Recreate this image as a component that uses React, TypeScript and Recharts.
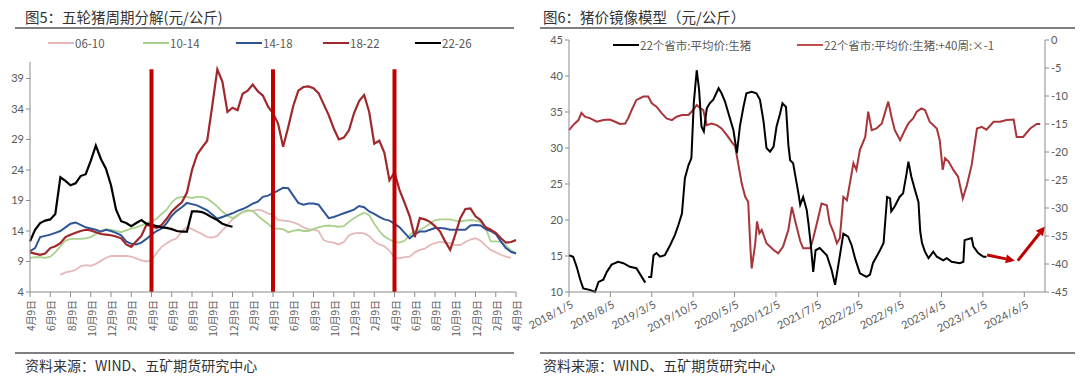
import { LineChart, Line, XAxis, YAxis, ReferenceLine } from "recharts";

// ---------- 图5 五轮猪周期分解 ----------
// every series sampled every half month, starting 4月9日
const cycleTicks = [0, 2, 4, 6, 8, 10, 12, 14, 16, 18, 20, 22, 24, 26, 28, 30, 32, 34, 36, 38, 40, 42, 44, 46, 48];
const cycleTickLabels = [
  "4月9日", "6月9日", "8月9日", "10月9日", "12月9日", "2月9日",
  "4月9日", "6月9日", "8月9日", "10月9日", "12月9日", "2月9日",
  "4月9日", "6月9日", "8月9日", "10月9日", "12月9日", "2月9日",
  "4月9日", "6月9日", "8月9日", "10月9日", "12月9日", "2月9日",
  "4月9日",
];
const cycleYTicks = [4, 9, 14, 19, 24, 29, 34, 39];
const cycleBreaks = [12, 24, 36];

const c0610 = [
  null, null, null, null, null, null, 6.8, 7.2,
  7.4, 7.6, 8.2, 8.4, 8.3, 8.6, 9.1, 9.6,
  9.9, 9.9, 9.9, 9.9, 9.8, 9.5, 9.2, 9.0,
  9.2, 10.4, 11.4, 12.0, 12.5, 12.8, 14.0, 14.6,
  14.3, 13.9, 13.5, 13.0, 12.9, 13.2, 14.1, 15.0,
  15.9, 16.5, 17.1, 17.3, 17.3, 17.5, 17.3, 16.9,
  16.6, 15.8, 15.7, 15.6, 15.4, 15.1, 14.6, 14.3,
  14.2, 14.0, 12.5, 12.2, 12.1, 11.8, 12.2, 13.3,
  13.6, 13.7, 13.6, 13.2, 12.3, 11.8, 11.5, 10.8,
  9.6, 9.5, 9.7, 9.8, 10.5, 10.9, 11.1, 11.7,
  12.0, 12.2, 12.1, 12.0, 11.7, 11.7, 12.2, 12.6,
  12.8, 12.4, 11.6, 10.9, 10.5, 10.1, 9.8, 9.6,
  null,
];
const c1014 = [
  9.6, 9.7, 9.7, 9.6, 9.8, 10.5, 11.5, 12.4,
  12.7, 12.7, 12.7, 12.8, 13.0, 13.5, 14.0, 14.3,
  14.2, 14.0, 13.8, 14.1, 14.4, 14.6, 14.9, 15.3,
  15.6, 16.0, 16.8, 17.5, 18.7, 19.4, 19.6, 19.6,
  19.4, 19.6, 19.6, 19.3, 18.7, 18.0, 17.2, 16.5,
  16.1, 16.6, 17.1, 17.4, 17.3, 16.5, 15.8, 15.2,
  14.4, 14.4, 14.3, 13.8, 14.0, 14.2, 14.0, 14.0,
  14.3, 14.6, 14.8, 14.9, 14.8, 14.7, 14.8, 15.5,
  16.1, 16.6, 17.0, 16.6, 15.2, 14.0, 13.1, 12.6,
  12.2, 12.1, 12.4, 13.3, 14.0, 14.2, 14.6, 15.2,
  15.8, 15.9, 15.9, 15.9, 15.7, 15.6, 15.7, 15.8,
  15.7, 15.5, 14.5, 12.3, 12.3, 12.2, 11.6, 10.8,
  10.4,
];
const c1418 = [
  10.7, 11.2, 13.0, 13.2, 13.4, 13.7, 14.0, 14.6,
  15.2, 15.4, 15.0, 14.6, 14.4, 14.2, 13.9, 14.2,
  14.0, 13.7, 13.3, 12.3, 11.9, 11.8, 12.1, 12.7,
  13.4, 14.0, 14.4, 15.3, 16.5, 17.3, 17.9, 18.6,
  18.4, 18.2, 17.8, 17.4, 16.7, 16.0, 16.3, 16.6,
  16.9, 17.3, 17.6, 18.0, 18.5, 18.8, 19.6, 19.8,
  20.2, 20.6, 21.1, 21.0, 19.8, 18.6, 18.3, 18.5,
  18.5, 18.3, 17.2, 16.1, 16.3, 16.6, 16.9, 17.2,
  17.5, 18.1, 17.9, 17.2, 16.8, 16.3, 15.9, 15.7,
  15.2, 14.6, 13.7, 12.8, 13.5, 13.9, 13.9, 14.2,
  14.5, 14.5, 14.4, 14.2, 14.2, 14.2, 14.2, 14.9,
  15.0, 14.9, 14.3, 14.0, 13.5, 12.3, 11.2, 10.6,
  10.3,
];
const c1822 = [
  10.5, 10.3, 10.1, 10.3, 11.2, 11.5, 12.0, 13.0,
  13.4, 13.7, 14.0, 14.2, 14.1, 13.8, 13.5, 13.4,
  13.3, 13.1, 12.8, 11.8, 11.4, 12.3, 13.2, 15.0,
  14.8, 14.5, 15.0, 16.0, 17.2, 18.0, 18.7, 20.3,
  24.0, 26.5, 27.7, 28.8, 34.5, 40.5, 38.5, 33.5,
  34.2, 33.8, 36.5, 37.0, 38.0, 36.9, 36.2, 34.4,
  33.3, 31.6, 27.8, 31.0, 34.5, 37.0, 37.6, 37.7,
  37.4, 36.6, 34.8, 33.0, 30.8, 29.0, 29.3, 30.5,
  33.3, 35.3, 36.3, 33.5, 28.3, 28.8, 26.8, 22.3,
  23.6, 20.7, 18.6, 16.4, 13.0, 16.1, 15.9, 15.5,
  14.8, 13.9, 12.3, 10.9, 13.4, 16.1, 17.6, 17.7,
  16.4, 15.8, 14.6, 14.2, 13.7, 12.8, 12.1, 12.2,
  12.5,
];
const c2226 = [
  12.3, 14.2, 15.3, 15.7, 15.9, 16.8, 22.8, 22.2,
  21.5, 21.8, 23.0, 23.3, 25.5, 28.0, 25.8, 24.2,
  21.5, 17.5, 15.6, 15.3, 14.8, 15.3, 15.8, 15.2,
  15.0, 14.8, 14.6, 14.5, 14.3, 14.0, 13.9, 13.9,
  17.2, 17.2, 17.1, 16.7, 16.2, 15.8, 15.2, 14.9,
  14.7,
];

const cycleSeries = [
  { key: "06-10", values: c0610, color: "#e6b9b8", width: 1.8 },
  { key: "10-14", values: c1014, color: "#a9d18e", width: 1.8 },
  { key: "14-18", values: c1418, color: "#2f5597", width: 2 },
  { key: "18-22", values: c1822, color: "#a0282c", width: 2.2 },
  { key: "22-26", values: c2226, color: "#000000", width: 2.2 },
];

const cycleData = c1822.map((_, i) => {
  const row: Record<string, number | null> = { m: i / 2 };
  cycleSeries.forEach((s) => {
    const v = s.values[i];
    row[s.key] = v === undefined ? null : v;
  });
  return row;
});

// ---------- 图6 猪价镜像模型 ----------
// months counted from 2018/1/5
const mirrorTicks = [0, 7, 14, 21, 28, 35, 42, 49, 56, 63, 70, 77];
const mirrorTickLabels = [
  "2018/1/5", "2018/8/5", "2019/3/5", "2019/10/5", "2020/5/5", "2020/12/5",
  "2021/7/5", "2022/2/5", "2022/9/5", "2023/4/5", "2023/11/5", "2024/6/5",
];
const priceTicks = [10, 15, 20, 25, 30, 35, 40, 45];
const mirrorAxisTicks = [-45, -40, -35, -30, -25, -20, -15, -10, -5, 0];

const hogMonths = [
  0, 0.7, 1.3, 1.9, 2.4, 3.5, 4.4, 5.0, 5.8, 6.4, 7.2, 8.3, 9.2, 10.3, 11.4, 12.3, 12.9, 13.1,
  13.4, 13.9, 14.3, 14.8, 15.4, 16.2, 17.1, 17.9, 18.5, 19.1, 19.6, 20.2, 20.7, 21.1, 21.6, 22.0,
  22.4, 22.8, 23.3, 23.8, 24.4, 25.3, 25.8, 26.4, 26.9, 27.8, 28.4, 28.9, 29.5, 30.0, 30.9, 31.7,
  32.3, 32.9, 33.4, 34.0, 34.6, 35.1, 35.7, 36.1, 36.7, 37.1, 37.4, 37.9, 38.8, 39.1, 39.6, 40.2,
  40.5, 40.9, 41.3, 41.7, 42.4, 43.6, 44.4, 45.0, 45.6, 46.4, 47.2, 47.8, 48.4, 49.2, 50.3, 50.9,
  51.4, 52.6, 53.2, 53.8, 54.3, 54.5, 55.1, 55.9, 56.5, 57.1, 57.4, 57.9, 58.5, 59.1, 59.4, 59.7,
  60.2, 60.8, 61.6, 62.2, 63.3, 63.9, 64.7, 66.1, 66.7, 66.9, 68.1, 68.4, 69.2, 70.1, 70.6,
];
const hogPrice = [
  15.1, 14.9, 13.5, 11.7, 10.5, 10.3, 10.0, 11.4, 11.7, 12.8, 13.8, 14.2, 14.0, 13.5, 13.3, 12.1, 11.3, null,
  12.1, 12.1, 15.1, 15.4, 14.9, 15.1, 16.5, 17.9, 19.3, 20.9, 25.8, 27.6, 28.6, 36.2, 40.8, 38.1,
  33.0, 32.3, 35.5, 36.2, 36.7, 38.3, 37.6, 36.4, 35.0, 32.5, 29.3, 33.0, 35.7, 37.6, 37.8, 37.6,
  36.7, 33.7, 30.0, 29.5, 30.2, 33.0, 34.8, 36.2, 35.7, 30.4, 28.3, 27.9, 23.7, 22.1, 23.2, 21.4,
  19.5, 16.5, 12.8, 15.8, 16.1, 15.1, 13.1, 11.0, 14.0, 18.1, 17.7, 16.5, 14.6, 12.6, 12.1, 12.4,
  14.0, 15.8, 16.8, 23.2, 23.0, 21.2, 21.9, 23.2, 23.7, 26.5, 28.1, 26.0, 24.2, 22.5, 18.4, 16.8,
  15.6, 14.7, 15.6, 14.9, 14.4, 14.7, 14.2, 14.0, 14.2, 17.2, 17.5, 16.3, 15.4, 14.9, 14.9,
];

const mirrorMonths = [
  0, 0.7, 1.6, 2.1, 2.7, 3.6, 4.7, 5.8, 6.9, 7.8, 8.6, 9.5, 10.0, 10.6, 11.4, 12.6, 13.4, 14.0,
  14.8, 15.7, 16.5, 17.4, 18.2, 19.1, 20.2, 21.0, 21.6, 22.2, 22.7, 23.3, 24.1, 25.0, 25.8, 26.7,
  27.5, 28.1, 28.6, 29.2, 29.8, 30.3, 30.7, 30.9, 31.5, 31.8, 32.2, 32.6, 33.4, 34.6, 35.4, 36.2,
  37.1, 37.7, 38.2, 39.1, 39.6, 40.8, 41.3, 42.2, 42.7, 43.6, 44.1, 44.7, 45.3, 45.8, 46.4, 47.0,
  47.5, 48.1, 48.6, 49.2, 50.1, 50.6, 51.2, 52.0, 52.9, 53.4, 54.0, 54.6, 55.1, 56.0, 56.8, 57.4,
  58.2, 58.8, 59.6, 60.2, 61.0, 62.2, 62.7, 63.2, 63.6, 64.2, 65.0, 65.8, 66.6, 67.3, 68.1, 68.7,
  69.0, 69.8, 70.6, 71.8, 72.9, 74.0, 75.2, 75.7, 76.8, 78.0, 79.1, 79.7,
];
const mirrorPrice = [
  -16.1, -15.2, -14.3, -13.0, -13.7, -14.0, -14.6, -14.3, -14.2, -14.6, -15.0, -14.9, -14.0, -12.5, -10.7, -10.1, -10.1, -11.3,
  -11.9, -13.1, -14.0, -14.3, -13.7, -13.4, -13.4, -12.5, -11.6, -12.2, -12.5, -15.2, -14.9, -15.2, -15.8, -17.0,
  -18.2, -19.0, -22.0, -25.6, -28.0, -28.9, -37.5, -40.8, -36.3, -32.4, -34.5, -33.9, -36.3, -37.5, -38.1, -36.9,
  -33.9, -29.8, -32.1, -35.9, -37.2, -37.2, -35.4, -31.5, -29.2, -29.5, -32.7, -34.2, -36.3, -35.4, -28.0, -28.6,
  -25.6, -22.0, -23.2, -19.6, -17.3, -12.8, -16.1, -15.8, -14.9, -13.1, -11.0, -14.0, -16.1, -17.9, -16.1, -14.9,
  -14.0, -12.8, -12.2, -12.5, -14.6, -15.8, -17.9, -23.2, -21.1, -21.7, -23.2, -24.4, -28.3, -25.9, -22.3, -17.9,
  -15.8, -15.5, -16.0, -14.6, -14.6, -14.3, -14.2, -17.3, -17.3, -15.8, -15.0, -15.0,
];

// forecast arrows, in (month, right-axis value)
const arrowDown = [{ x: 70.7, y: -38.4 }, { x: 75.4, y: -39.4 }];
const arrowUp = [{ x: 75.9, y: -39.4 }, { x: 80.5, y: -33.3 }];

const hogData = hogMonths.map((m, i) => ({ m, v: hogPrice[i] }));
const mirrorData = mirrorMonths.map((m, i) => ({ m, v: mirrorPrice[i] }));

const FONT = "Lato, 'Noto Sans CJK SC', sans-serif";
const CJK = "'Noto Sans CJK SC', sans-serif";
const AXIS = "#8c8c8c";
const TEXT = "#595959";

const CycleTick = ({ x, y, payload }: any) => {
  const idx = cycleTicks.indexOf(payload.value);
  return (
    <text
      transform={`translate(${x + 0.5},${y + 1}) rotate(-90)`}
      textAnchor="end"
      dominantBaseline="central"
      fontSize={10}
      fill={TEXT}
      fontFamily={CJK}
    >
      {cycleTickLabels[idx]}
    </text>
  );
};

const DateTick = ({ x, y, payload }: any) => {
  const idx = mirrorTicks.indexOf(payload.value);
  return (
    <text
      transform={`translate(${x + 3},${y + 4}) rotate(-28)`}
      textAnchor="end"
      dominantBaseline="central"
      fontSize={11}
      fill={TEXT}
      fontFamily={FONT}
    >
      {mirrorTickLabels[idx]}
    </text>
  );
};

const Arrow = (props: any) => {
  const { x1, y1, x2, y2 } = props;
  const ang = Math.atan2(y2 - y1, x2 - x1);
  const len = 9;
  const half = 4.5;
  const bx = x2 - len * Math.cos(ang);
  const by = y2 - len * Math.sin(ang);
  const px = half * Math.sin(ang);
  const py = half * Math.cos(ang);
  return (
    <g>
      <line x1={x1} y1={y1} x2={bx} y2={by} stroke="#c00000" strokeWidth={3} />
      <polygon
        points={`${x2},${y2} ${bx + px},${by - py} ${bx - px},${by + py}`}
        fill="#c00000"
      />
    </g>
  );
};

const LegendItem = ({ left, top, color, label, lineW = 26 }: any) => (
  <div style={{ position: "absolute", left, top, display: "flex", alignItems: "center" }}>
    <div style={{ width: lineW, height: 2, background: color }} />
    <span style={{ fontSize: 11.5, color: TEXT, fontFamily: CJK, marginLeft: 1, whiteSpace: "nowrap" }}>
      {label}
    </span>
  </div>
);

const titleStyle = {
  position: "absolute" as const,
  fontSize: 14.5,
  color: "#333",
  fontFamily: CJK,
  whiteSpace: "nowrap" as const,
};
const rule = (left: number, top: number, width: number) => (
  <div style={{ position: "absolute", left, top, width, height: 1.5, background: "#7f7f7f" }} />
);

export default function App() {
  return (
    <div
      style={{
        position: "absolute",
        left: 0,
        top: 0,
        width: 1080,
        height: 382,
        background: "#fff",
        overflow: "hidden",
      }}
    >
      {/* left panel */}
      <div style={{ ...titleStyle, left: 25, top: 6 }}>图5：五轮猪周期分解(元/公斤)</div>
      {rule(15, 27, 499)}
      <div style={{ position: "absolute", left: 0, top: 0 }}>
        <LineChart width={525} height={352} data={cycleData} margin={{ top: 62, right: 9, left: 0, bottom: 0 }}>
          <XAxis
            dataKey="m"
            type="number"
            domain={[0, 48]}
            ticks={cycleTicks}
            interval={0}
            height={60}
            stroke={AXIS}
            tickSize={5}
            tickMargin={2}
            tick={<CycleTick />}
          />
          <YAxis
            type="number"
            domain={[4, 41.7]}
            ticks={cycleYTicks}
            width={30}
            stroke={AXIS}
            tickSize={4}
            tick={{ fontSize: 11, fill: TEXT, fontFamily: FONT }}
          />
          {cycleSeries.map((s) => (
            <Line
              key={s.key}
              dataKey={s.key}
              type="linear"
              stroke={s.color}
              strokeWidth={s.width}
              dot={false}
              isAnimationActive={false}
            />
          ))}
          {cycleBreaks.map((b) => (
            <ReferenceLine
              key={b}
              segment={[{ x: b, y: 40.5 }, { x: b, y: 4 }]}
              stroke="#c00000"
              strokeWidth={4}
            />
          ))}
        </LineChart>
      </div>
      {cycleSeries.map((s, i) => (
        <LegendItem
          key={s.key}
          left={[48, 143, 236, 323, 415][i]}
          top={35}
          color={s.color}
          label={s.key}
        />
      ))}
      {rule(15, 352, 499)}
      <div style={{ ...titleStyle, left: 25, top: 355, fontSize: 14 }}>资料来源：WIND、五矿期货研究中心</div>

      {/* right panel */}
      <div style={{ ...titleStyle, left: 543, top: 6 }}>图6：猪价镜像模型（元/公斤）</div>
      {rule(540, 27, 535)}
      <div style={{ position: "absolute", left: 500, top: 0 }}>
        <LineChart width={580} height={352} margin={{ top: 40, right: 0, left: 40, bottom: 0 }}>
          <XAxis
            dataKey="m"
            type="number"
            domain={[0, 80.5]}
            ticks={mirrorTicks}
            interval={0}
            height={60}
            stroke={AXIS}
            tickSize={5}
            tickMargin={2}
            tick={<DateTick />}
          />
          <YAxis
            yAxisId="left"
            type="number"
            domain={[10, 45]}
            ticks={priceTicks}
            width={29}
            stroke={AXIS}
            tickSize={4}
            tick={{ fontSize: 11, fill: TEXT, fontFamily: FONT }}
          />
          <YAxis
            yAxisId="right"
            orientation="right"
            type="number"
            domain={[-45, 0]}
            ticks={mirrorAxisTicks}
            width={35}
            stroke={AXIS}
            tickSize={4}
            tick={{ fontSize: 11, fill: TEXT, fontFamily: FONT }}
          />
          <Line
            yAxisId="right"
            data={mirrorData}
            dataKey="v"
            type="linear"
            stroke="#a8353a"
            strokeWidth={2}
            dot={false}
            isAnimationActive={false}
          />
          <Line
            yAxisId="left"
            data={hogData}
            dataKey="v"
            type="linear"
            stroke="#000000"
            strokeWidth={2}
            dot={false}
            isAnimationActive={false}
          />
          <ReferenceLine yAxisId="right" segment={arrowDown} shape={<Arrow />} ifOverflow="visible" />
          <ReferenceLine yAxisId="right" segment={arrowUp} shape={<Arrow />} ifOverflow="visible" />
        </LineChart>
      </div>
      <LegendItem left={613} top={37} color="#000" label="22个省市:平均价:生猪" />
      <LegendItem left={797} top={37} color="#c0504d" label="22个省市:平均价:生猪:+40周:×-1" />
      {rule(540, 352, 535)}
      <div style={{ ...titleStyle, left: 543, top: 355, fontSize: 14 }}>资料来源：WIND、五矿期货研究中心</div>
    </div>
  );
}
